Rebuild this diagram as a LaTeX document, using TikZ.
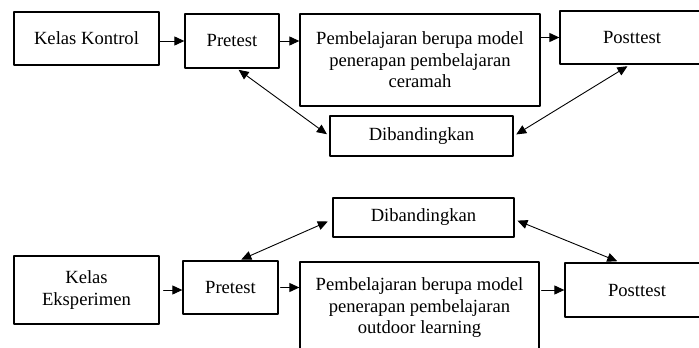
\documentclass[tikz,border=0pt]{standalone}
\usepackage{fontspec}
\setmainfont{Liberation Serif}
\usetikzlibrary{arrows.meta}

\begin{document}
\begin{tikzpicture}[line cap=round,line join=round,x=1pt,y=-1pt,
  box/.style={draw, line width=1.3pt, inner sep=0pt, align=center,
    font=\fontsize{18.6}{21.5}\selectfont},
  link/.style={-{Triangle[length=10pt,width=9pt]}, line width=1pt},
  twin/.style={{Triangle[length=10pt,width=9pt]}-{Triangle[length=10pt,width=9pt]}, line width=0.9pt}]

\useasboundingbox (0,0) rectangle (699,348);
\clip (0,0) rectangle (699,348);

\node [box, minimum width=145pt, minimum height=53pt] (kk) at (86.5,38.5) {Kelas Kontrol};
\node [box, minimum width=94pt, minimum height=54pt] (pre1) at (232,41) {Pretest};
\node [box, minimum width=240pt, minimum height=92pt] (pem1) at (420,60) {Pembelajaran berupa model\\penerapan pembelajaran\\ceramah};
\node [box, minimum width=144pt, minimum height=53pt] (post1) at (632,37.5) {Posttest};
\node [box, minimum width=183pt, minimum height=40pt] (dib1) at (421.5,136) {Dibandingkan};

\node [box, minimum width=181pt, minimum height=39pt] (dib2) at (423.5,217.5) {Dibandingkan};
\node [box, minimum width=145pt, minimum height=68pt] (ke) at (86.5,290) {Kelas\\Eksperimen};
\node [box, minimum width=95pt, minimum height=53pt] (pre2) at (230.5,287.5) {Pretest};
\node [box, minimum width=239pt, minimum height=92pt] (pem2) at (419.5,308) {Pembelajaran berupa model\\penerapan pembelajaran\\outdoor learning};
\node [box, minimum width=144pt, minimum height=54pt] (post2) at (637,290) {Posttest};

\draw [link] (kk.east |- pre1.west) -- (pre1.west);
\draw [link] (pre1.east) -- (pre1.east -| pem1.west);
\draw [link] (post1.west -| pem1.east) -- (post1.west);
\draw [twin, shorten <=2pt, shorten >=3pt] ([xshift=5pt]pre1.south) -- (dib1.west);
\draw [twin, shorten <=3pt, shorten >=3pt] ([xshift=-2pt]post1.south) -- (dib1.east);

\draw [link, shorten <=4pt] (ke.east) -- (ke.east -| pre2.west);
\draw [link, shorten <=2pt] (pre2.east) -- (pre2.east -| pem2.west);
\draw [link, shorten <=2pt] (post2.west -| pem2.east) -- (post2.west);
\draw [twin, shorten <=2pt, shorten >=5pt] ([xshift=9pt]pre2.north) -- ([yshift=-2pt]dib2.west);
\draw [twin, shorten <=3pt, shorten >=3pt] ([yshift=-2pt]dib2.east) -- ([xshift=-17pt]post2.north);
\end{tikzpicture}
\end{document}
